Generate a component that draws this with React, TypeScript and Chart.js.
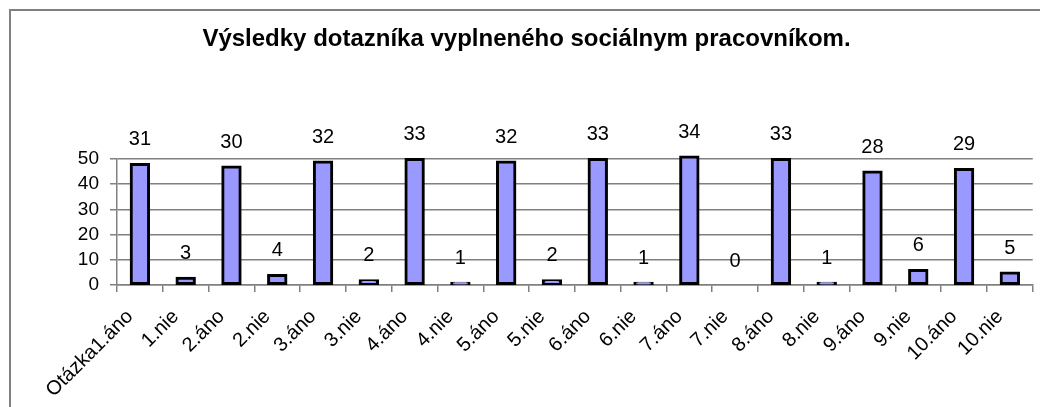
import React, { useEffect, useRef } from "react";
import { Chart, registerables } from "chart.js";

Chart.register(...registerables);

const chartTitle = "Výsledky dotazníka vyplneného sociálnym pracovníkom.";
const categories = [
  "Otázka1.áno", "1.nie", "2.áno", "2.nie", "3.áno", "3.nie", "4.áno", "4.nie",
  "5.áno", "5.nie", "6.áno", "6.nie", "7.áno", "7.nie", "8.áno", "8.nie",
  "9.áno", "9.nie", "10.áno", "10.nie",
];
const barValues = [48, 3, 47, 4, 49, 2, 50, 1, 49, 2, 50, 1, 51, 0, 50, 1, 45, 6, 46, 5];
const labelValues = [31, 3, 30, 4, 32, 2, 33, 1, 32, 2, 33, 1, 34, 0, 33, 1, 28, 6, 29, 5];
const yTickValues = [0, 10, 20, 30, 40, 50];

const FONT = "'Liberation Sans', Arial, sans-serif";

const valueLabels = {
  id: "valueLabels",
  afterDatasetsDraw(chart: any) {
    const ctx = chart.ctx;
    const meta = chart.getDatasetMeta(0);
    const base = chart.scales.y.getPixelForValue(0);
    ctx.save();
    ctx.font = `20px ${FONT}`;
    ctx.fillStyle = "#000";
    ctx.textAlign = "center";
    ctx.textBaseline = "middle";
    meta.data.forEach((el: any, i: number) => {
      const top = Math.min(el.y, base);
      ctx.fillText(String(labelValues[i]), el.x, top - 24);
    });
    ctx.restore();
  },
};

export default function App() {
  const ref = useRef<HTMLCanvasElement>(null);
  useEffect(() => {
    if (!ref.current) return;
    const chart = new Chart(ref.current, {
      type: "bar",
      data: {
        labels: categories,
        datasets: [
          {
            data: barValues,
            backgroundColor: "#9999ff",
            borderColor: "#000000",
            borderWidth: 3,
            borderSkipped: false,
            inflateAmount: 0.8,
            categoryPercentage: 1,
            barPercentage: 0.41,
            clip: false as any,
          },
        ],
      },
      options: {
        animation: false,
        responsive: true,
        maintainAspectRatio: false,
        layout: { padding: { left: 20, right: 7, top: 0, bottom: 0 } },
        plugins: {
          legend: { display: false },
          tooltip: { enabled: false },
          title: {
            display: true,
            text: chartTitle,
            color: "#000",
            font: { family: FONT, size: 24, weight: "bold" },
            padding: { top: 25, bottom: 105 },
          },
        },
        scales: {
          x: {
            offset: true,
            grid: {
              offset: true,
              drawOnChartArea: false,
              drawTicks: true,
              tickLength: 7,
              color: "#808080",
              lineWidth: 1.5,
            },
            border: { display: true, color: "#808080", width: 1.5 },
            ticks: {
              color: "#000",
              font: { family: FONT, size: 20 },
              minRotation: 45,
              maxRotation: 45,
              autoSkip: false,
              padding: 13,
              labelOffset: -10,
            },
            afterFit: (s: any) => {
              s.height = 122;
            },
          },
          y: {
            min: 0,
            max: 50,
            afterBuildTicks: (s: any) => {
              s.ticks = yTickValues.map((v) => ({ value: v }));
            },
            grid: {
              color: "#808080",
              lineWidth: 1.5,
              tickLength: 7,
            },
            border: { display: true, color: "#808080", width: 1.5 },
            ticks: {
              color: "#000",
              font: { family: FONT, size: 19 },
              padding: 11,
              autoSkip: false,
            },
            afterFit: (s: any) => {
              s.width = 97;
            },
          },
        },
      },
      plugins: [valueLabels],
    });
    return () => chart.destroy();
  }, []);

  return (
    <div
      style={{
        position: "fixed",
        left: 0,
        top: 0,
        width: 1040,
        height: 407,
        overflow: "hidden",
        background: "#fff",
      }}
    >
      <div
        style={{
          position: "absolute",
          left: 9,
          top: 9,
          width: 1200,
          height: 600,
          border: "2px solid #808080",
        }}
      />
      <div style={{ position: "absolute", left: 0, top: 0, width: 1040, height: 407 }}>
        <canvas ref={ref} />
      </div>
    </div>
  );
}
